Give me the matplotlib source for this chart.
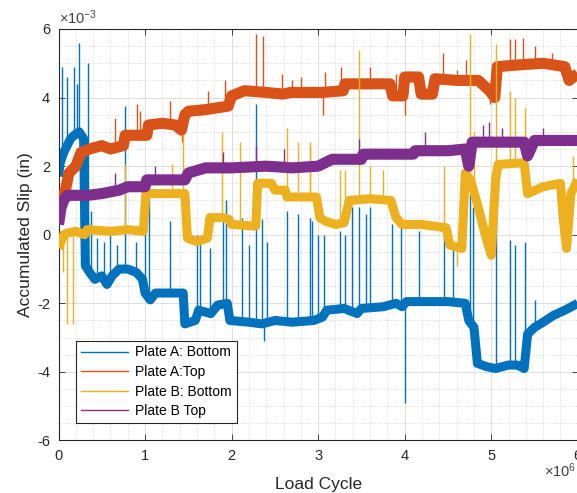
import numpy as np
import matplotlib
matplotlib.use("Agg")
import matplotlib.pyplot as plt
from matplotlib.lines import Line2D
from matplotlib.ticker import MultipleLocator

plt.rcParams['font.family'] = ['Liberation Sans', 'DejaVu Sans']
plt.rcParams['mathtext.fontset'] = 'custom'
plt.rcParams['mathtext.rm'] = 'Liberation Sans'
plt.rcParams['axes.unicode_minus'] = False

# load cycle in units of 1e6, slip in units of 1e-3 in
# Plate A: Bottom
a_bot_x = [0, 0.02, 0.06, 0.1, 0.14, 0.18, 0.24, 0.29, 0.31, 0.36,
           0.42, 0.5, 0.56, 0.62, 0.7, 0.8, 0.9, 0.97, 1.0, 1.06,
           1.12, 1.25, 1.44, 1.46, 1.58, 1.62, 1.76, 1.84, 1.95, 1.98,
           2.2, 2.35, 2.5, 2.7, 2.95, 3.05, 3.1, 3.3, 3.45, 3.5,
           3.75, 3.9, 3.97, 4.02, 4.3, 4.5, 4.7, 4.74, 4.8, 4.84,
           4.95, 5.05, 5.2, 5.3, 5.38, 5.42, 5.5, 5.6, 5.72, 5.85, 6.0]
a_bot_y = [1.7, 2.1, 2.4, 2.6, 2.8, 2.9, 3.0, 2.8, -0.9, -1.1,
           -1.3, -1.2, -1.45, -1.2, -1.0, -1.0, -1.1, -1.3, -1.7, -1.9,
           -1.7, -1.7, -1.7, -2.6, -2.5, -2.2, -2.3, -2.05, -2.0, -2.5,
           -2.55, -2.6, -2.5, -2.55, -2.5, -2.4, -2.2, -2.15, -2.3, -2.15,
           -2.1, -2.0, -2.1, -1.95, -1.95, -1.95, -2.0, -2.5, -2.7, -3.75,
           -3.85, -3.9, -3.8, -3.8, -3.9, -2.9, -2.7, -2.55, -2.35, -2.2, -2.0]
a_bot_spike_x = [0.04, 0.1, 0.18, 0.21, 0.24, 0.34, 0.38, 0.45, 0.52, 0.6,
                 0.68, 0.77, 0.9, 1.0, 1.05, 1.29, 1.6, 1.64, 1.75, 1.9,
                 1.93, 2.12, 2.2, 2.28, 2.35, 2.37, 2.41, 2.64, 2.77, 2.9,
                 2.93, 3.0, 3.07, 3.25, 3.31, 3.39, 3.47, 3.55, 3.6, 3.85,
                 3.96, 4.0, 4.16, 4.45, 4.56, 4.75, 4.79, 5.06, 5.22, 5.28,
                 5.39, 5.51]
a_bot_spike_y = [4.9, 4.6, 4.9, 4.4, 5.6, 5.0, 0.7, -0.1, -0.2, 0.0,
                 -0.3, 3.75, -0.2, 0.1, 1.1, 0.4, 0.0, -0.2, -0.4, 0.4,
                 1.0, 0.5, -0.3, 3.8, 0.45, -3.1, -0.2, 0.7, 0.6, 0.5,
                 0.4, 0.0, 0.0, 0.1, 0.0, 0.8, 0.8, 0.6, 0.8, 0.3,
                 0.3, -4.9, 0.1, 0.0, -0.3, 1.75, 0.8, 1.55, -0.15, -0.3,
                 -0.2, -1.9]

# Plate A: Top
a_top_x = [0, 0.04, 0.08, 0.12, 0.2, 0.26, 0.36, 0.5, 0.6, 0.75,
           0.77, 0.9, 1.02, 1.04, 1.2, 1.35, 1.42, 1.46, 1.5, 1.7,
           1.96, 2.0, 2.15, 2.4, 2.6, 2.68, 3.05, 3.29, 3.31, 3.83,
           3.86, 3.98, 4.0, 4.16, 4.19, 4.32, 4.35, 4.6, 4.85, 4.98,
           5.04, 5.07, 5.3, 5.6, 5.85, 5.9, 6.0]
a_top_y = [0.7, 1.1, 1.3, 1.8, 2.0, 2.4, 2.5, 2.6, 2.5, 2.6,
           2.9, 2.9, 2.9, 3.2, 3.25, 3.2, 3.05, 3.5, 3.6, 3.65,
           3.75, 4.05, 4.2, 4.15, 4.1, 4.15, 4.15, 4.2, 4.4, 4.4,
           4.05, 4.05, 4.6, 4.6, 4.1, 4.1, 4.55, 4.5, 4.5, 4.2,
           4.0, 4.9, 4.95, 5.0, 4.9, 4.5, 4.7]
a_top_spike_x = [0.65, 0.91, 0.94, 1.29, 1.43, 1.73, 1.92, 2.28, 2.36, 2.58,
                 2.7, 2.8, 3.06, 3.08, 3.26, 3.6, 3.9, 4.0, 4.44, 4.6,
                 4.71, 4.99, 5.22, 5.28, 5.37, 5.51, 5.7]
a_top_spike_y = [3.4, 3.8, 3.6, 3.9, 2.7, 4.2, 4.5, 5.85, 5.8, 4.7,
                 4.5, 4.6, 3.5, 4.75, 4.9, 4.9, 4.7, 3.5, 5.3, 4.8,
                 5.1, 3.8, 5.7, 5.7, 5.75, 5.5, 5.3]

# Plate B: Bottom
b_bot_x = [0, 0.03, 0.06, 0.1, 0.2, 0.3, 0.33, 0.6, 0.8, 0.98,
           1.01, 1.2, 1.46, 1.49, 1.6, 1.72, 1.75, 1.9, 1.97, 2.0,
           2.28, 2.3, 2.46, 2.5, 2.62, 2.64, 2.98, 3.02, 3.08, 3.2,
           3.3, 3.36, 3.6, 3.84, 3.9, 3.97, 4.2, 4.48, 4.52, 4.66,
           4.7, 4.76, 4.85, 4.93, 5.0, 5.05, 5.08, 5.38, 5.42, 5.6,
           5.8, 5.83, 5.87, 5.92, 6.0]
b_bot_y = [-0.4, -0.2, 0.0, 0.05, 0.1, 0.0, 0.15, 0.1, 0.15, 0.1,
           1.2, 1.2, 1.2, -0.1, -0.2, -0.1, 0.5, 0.5, 0.45, 0.3,
           0.25, 1.5, 1.5, 1.3, 1.3, 1.1, 1.1, 0.5, 0.4, 0.3,
           0.35, 1.0, 1.05, 1.0, 0.5, 0.3, 0.3, 0.2, -0.3, -0.4,
           1.8, 1.6, 0.8, 0.0, -0.6, 1.6, 2.05, 2.1, 1.2, 1.4,
           1.5, 0.5, -0.4, 1.2, 1.6]
b_bot_spike_x = [0.05, 0.1, 0.17, 0.77, 1.31, 1.44, 1.89, 2.1, 2.64, 2.77,
                 2.9, 2.91, 3.25, 3.31, 3.47, 3.6, 3.75, 4.45, 4.6, 4.76,
                 4.8, 5.05, 5.22, 5.28, 5.39, 5.95]
b_bot_spike_y = [-1.1, -2.6, -2.6, 2.05, 2.05, 2.9, 3.0, 2.7, 3.1, 2.7,
                 2.6, 2.7, 1.9, 1.9, 5.4, 2.0, 1.9, 2.0, -0.9, 5.85,
                 3.0, 5.55, 4.2, 4.0, 3.7, 2.3]

# Plate B Top
b_top_x = [0, 0.03, 0.06, 0.1, 0.34, 0.5, 0.7, 0.8, 1.0, 1.02,
           1.3, 1.46, 1.5, 1.7, 2.0, 2.4, 2.7, 3.0, 3.16, 3.5,
           3.52, 4.1, 4.12, 4.5, 4.7, 4.74, 4.78, 5.0, 5.38, 5.42,
           5.5, 6.0]
b_top_y = [0.3, 0.8, 1.0, 1.15, 1.15, 1.2, 1.3, 1.4, 1.4, 1.6,
           1.6, 1.6, 1.8, 1.95, 1.95, 2.0, 1.95, 2.0, 2.2, 2.2,
           2.35, 2.35, 2.45, 2.45, 2.5, 2.0, 2.7, 2.7, 2.7, 2.3,
           2.75, 2.75]
b_top_spike_x = [0.65, 1.12, 1.9, 2.28, 2.6, 3.47, 4.24, 4.9, 4.97, 5.12, 5.6]
b_top_spike_y = [1.8, 2.0, 2.4, 2.6, 2.5, 2.8, 3.0, 3.2, 3.3, 3.1, 3.1]

labels = ['Plate A: Bottom', 'Plate A:Top', 'Plate B: Bottom', 'Plate B Top']
colors = ['#0072BD', '#D95319', '#EDB120', '#7E2F8E']

series = [
    (a_bot_x, a_bot_y, a_bot_spike_x, a_bot_spike_y, 6.5),
    (a_top_x, a_top_y, a_top_spike_x, a_top_spike_y, 8),
    (b_bot_x, b_bot_y, b_bot_spike_x, b_bot_spike_y, 6.5),
    (b_top_x, b_top_y, b_top_spike_x, b_top_spike_y, 8),
]

fig = plt.figure(figsize=(5.77, 4.93), dpi=100)
ax = fig.add_axes([0.1014, 0.1065, 0.9, 0.8347])

for i, (x, y, sx, sy, lw) in enumerate(series):
    x = np.array(x)
    y = np.array(y)
    # spikes start from the band level
    base = np.interp(sx, x, y)
    ax.vlines(sx, base, sy, colors=colors[i], linewidth=1.0, zorder=2 + i)
    ax.plot(x, y, color=colors[i], linewidth=lw, solid_joinstyle='round',
            solid_capstyle='butt', zorder=2 + i)

ax.set_xlim(0, 6)
ax.set_ylim(-6, 6)
ax.set_xticks(range(0, 7))
ax.set_yticks(range(-6, 7, 2))
ax.xaxis.set_minor_locator(MultipleLocator(0.2))
ax.yaxis.set_minor_locator(MultipleLocator(0.5))
ax.tick_params(which='both', direction='in', top=True, right=True,
               labelsize=10.5, colors='#262626')
ax.tick_params(which='major', length=4, width=0.6, pad=6)
ax.tick_params(which='minor', length=0)
ax.grid(which='major', color='#d8d8d8', linewidth=0.6)
ax.grid(which='minor', color='#d0d0d0', linewidth=0.6, linestyle=':')
ax.set_axisbelow(True)
for sp in ax.spines.values():
    sp.set_color('#262626')
    sp.set_linewidth(0.8)

ax.set_xlabel('Load Cycle', fontsize=12.5, color='#262626', labelpad=10)
ax.set_ylabel('Accumulated Slip (in)', fontsize=12.5, color='#262626', labelpad=3)
ax.text(0.0, 1.004, r'$\times\mathregular{10^{-3}}$', transform=ax.transAxes,
        ha='left', va='bottom', fontsize=10.5, color='#404040')
ax.text(0.997, -0.05, r'$\times\mathregular{10^{6}}$', transform=ax.transAxes,
        ha='right', va='top', fontsize=10.5, color='#404040')

handles = [Line2D([], [], color=c, linewidth=1.0) for c in colors]
leg = ax.legend(handles, labels, loc='lower left', bbox_to_anchor=(0.0337, 0.0425),
                borderaxespad=0, fontsize=10, handlelength=3.4, fancybox=False,
                framealpha=1, edgecolor='#262626', labelspacing=0.4,
                borderpad=0.35, handletextpad=0.5)
leg.get_frame().set_linewidth(0.8)
leg.set_zorder(10)

fig.savefig('out.png', dpi=100)
